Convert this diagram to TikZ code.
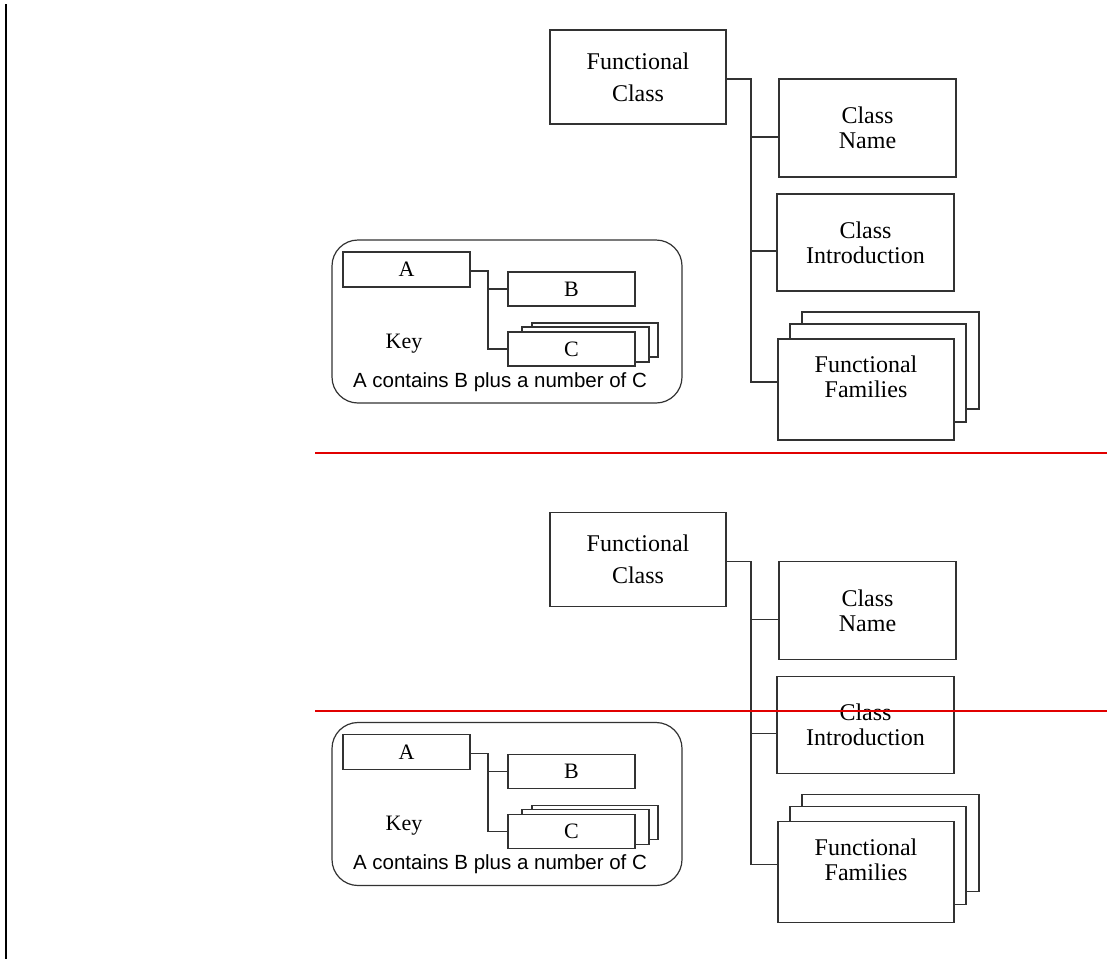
\documentclass[tikz,border=0pt]{standalone}
\usepackage{fontspec}
\setmainfont{Liberation Serif}
\setsansfont{Liberation Sans}
\definecolor{boxgray}{RGB}{50,50,50}
\definecolor{refred}{RGB}{225,0,0}
\tikzset{
  box/.style={draw=boxgray, line width=1.2pt, fill=white, rectangle, inner sep=0pt, align=center, font=\fontsize{24}{25}\selectfont},
  keybox/.style={draw=boxgray, line width=1.1pt, fill=white, rectangle, inner sep=0pt, font=\fontsize{22}{24}\selectfont},
  txt/.style={inner sep=0pt, align=center, font=\fontsize{24}{25}\selectfont},
  conn/.style={draw=boxgray, line width=1.2pt},
  redline/.style={draw=refred, line width=2.2pt},
}
\newcommand\drawdiagram{%
  % main hierarchy
  \node[box, minimum width=176, minimum height=94, font=\fontsize{24}{32}\selectfont] (fc) at (638,77) {Functional\\Class};
  \node[box, minimum width=177, minimum height=98] (cn) at (867.5,128) {Class\\Name};
  \node[box, minimum width=177, minimum height=97] (ci) at (865.5,242.5) {Class\\Introduction};
  \node[box, minimum width=177, minimum height=97] (ff3) at (890.5,360.5) {};
  \node[box, minimum width=176, minimum height=98] (ff2) at (878,373) {};
  \node[box, minimum width=176, minimum height=101] (ff) at (866,389.5) {};
  \node[txt] (fft) at (866,377) {Functional\\Families};
  \coordinate (trunk) at (751,0);
  \coordinate (fcout) at ([yshift=-2pt]fc.east);
  \coordinate (cnin) at ([yshift=-9pt]cn.west);
  \coordinate (ciin) at ([yshift=-8.5pt]ci.west);
  \coordinate (ffin) at ([yshift=7.5pt]ff.west);
  \draw[conn] (fcout) -| (ffin -| trunk) -- (ffin);
  \draw[conn] (cnin -| trunk) -- (cnin);
  \draw[conn] (ciin -| trunk) -- (ciin);
  % key
  \node[draw=boxgray, line width=1.2pt, rounded corners=26pt, minimum width=350, minimum height=163, inner sep=0pt] (key) at (507,321.5) {};
  \node[keybox, minimum width=127, minimum height=35] (a) at (406.5,269.5) {A};
  \node[keybox, minimum width=127, minimum height=34] (b) at (571.5,289) {B};
  \node[keybox, minimum width=126, minimum height=34] (c3) at (595,340) {};
  \node[keybox, minimum width=127, minimum height=35] (c2) at (585.5,344.5) {};
  \node[keybox, minimum width=127, minimum height=34] (c) at (571.5,349) {C};
  \coordinate (kt) at (488,0);
  \coordinate (aout) at ([yshift=-1.5pt]a.east);
  \draw[conn, line width=1.1pt] (aout) -| (c.west -| kt) -- (c.west);
  \draw[conn, line width=1.1pt] (b.west -| kt) -- (b.west);
  \node[inner sep=0pt, anchor=base, font=\fontsize{22}{24}\selectfont] (keylbl) at (404,348) {Key};
  \node[inner sep=0pt, anchor=base, font=\sffamily\fontsize{20.5}{24}\selectfont] (keytxt) at (500,387) {A contains B plus a number of C};
}
\begin{document}
\begin{tikzpicture}[x=1pt, y=-1pt]
  \useasboundingbox (0,0) rectangle (1107,959);
  \draw[line width=2pt] (6,4) -- (6,959);
  \begin{scope}[name prefix=top-]
    \drawdiagram
  \end{scope}
  \begin{scope}[name prefix=bot-, yshift=-482.5pt]
    \drawdiagram
  \end{scope}
  \draw[redline] (315,453) -- (1107,453);
  \draw[redline] (315,711) -- (1107,711);
\end{tikzpicture}
\end{document}
